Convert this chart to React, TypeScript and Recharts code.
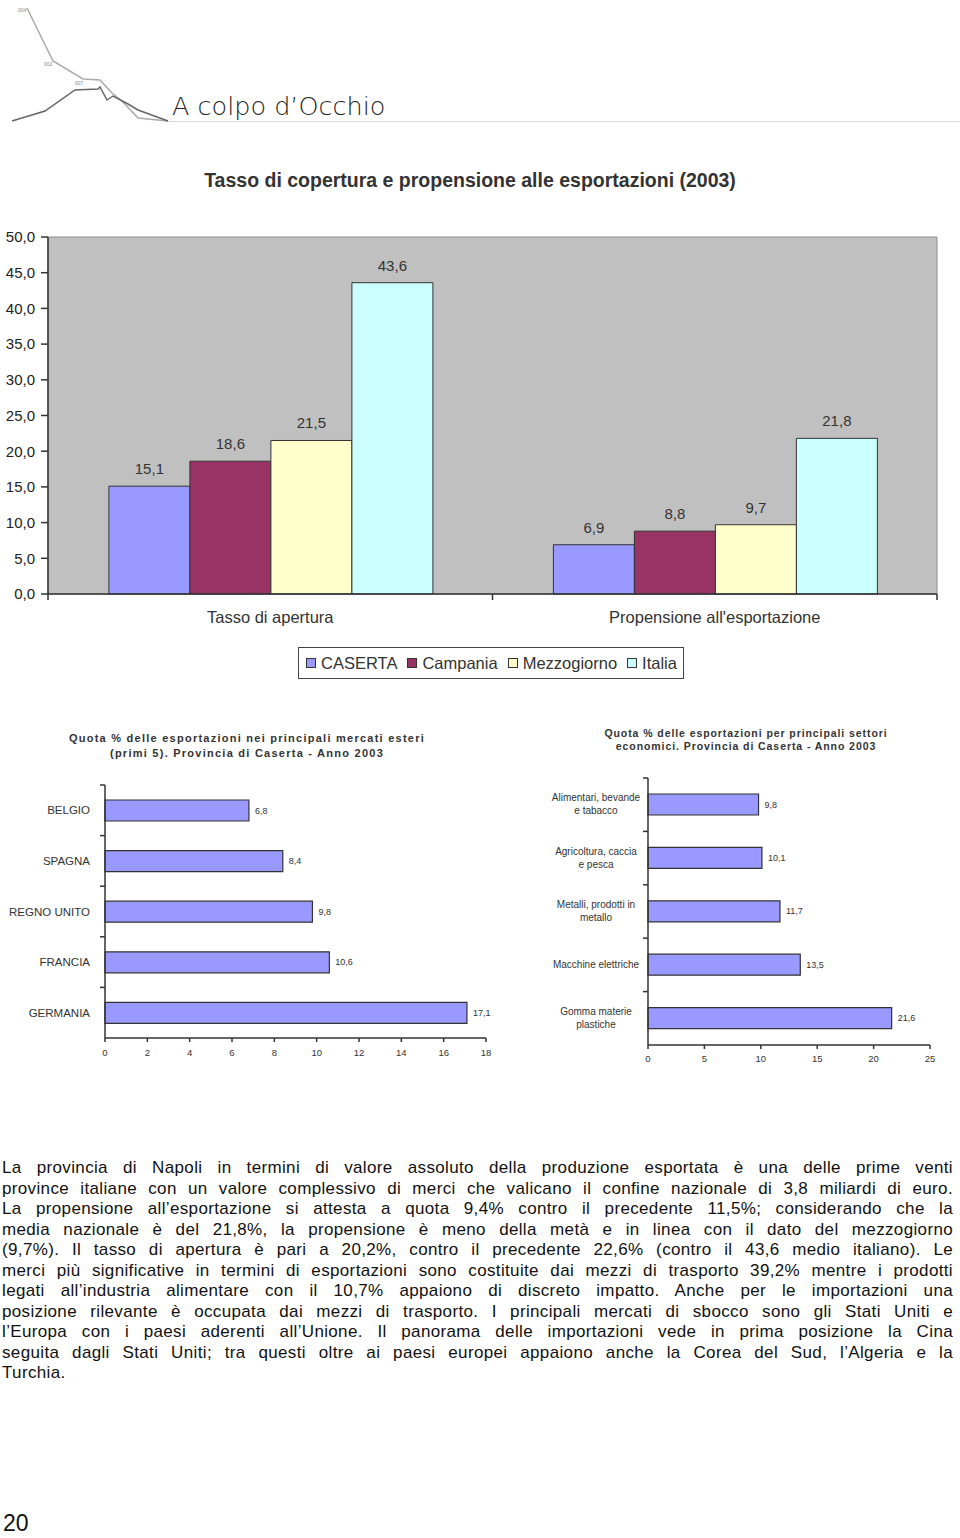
import React from 'react';
import { BarChart, Bar, XAxis, YAxis, CartesianGrid, LabelList, ReferenceArea } from 'recharts';

// Main chart: tasso di apertura / propensione all'esportazione
const groupNames = ['Tasso di apertura', "Propensione all'esportazione"];
const casertaValues = [15.1, 6.9];
const campaniaValues = [18.6, 8.8];
const mezzogiornoValues = [21.5, 9.7];
const italiaValues = [43.6, 21.8];
const seriesNames = ['CASERTA', 'Campania', 'Mezzogiorno', 'Italia'];
const seriesColors = ['#9999ff', '#993366', '#ffffcc', '#ccffff'];
const coverageTicks = [0, 5, 10, 15, 20, 25, 30, 35, 40, 45, 50];

// Left small chart: principali mercati esteri
const marketNames = ['BELGIO', 'SPAGNA', 'REGNO UNITO', 'FRANCIA', 'GERMANIA'];
const marketShares = [6.8, 8.4, 9.8, 10.6, 17.1];
const marketTicks = [0, 2, 4, 6, 8, 10, 12, 14, 16, 18];

// Right small chart: principali settori economici
const sectorNames = [
  'Alimentari, bevande\ne tabacco',
  'Agricoltura, caccia\ne pesca',
  'Metalli, prodotti in\nmetallo',
  'Macchine elettriche',
  'Gomma materie\nplastiche',
];
const sectorShares = [9.8, 10.1, 11.7, 13.5, 21.6];
const sectorTicks = [0, 5, 10, 15, 20, 25];

const paragraphLines = [
  'La provincia di Napoli in termini di valore assoluto della produzione esportata è una delle prime venti',
  'province italiane con un valore complessivo di merci che valicano il confine nazionale di 3,8 miliardi di euro.',
  'La propensione all’esportazione si attesta a quota 9,4% contro il precedente 11,5%; considerando che la',
  'media nazionale è del 21,8%, la propensione è meno della metà e in linea con il dato del mezzogiorno',
  '(9,7%). Il tasso di apertura è pari a 20,2%, contro il precedente 22,6% (contro il 43,6 medio italiano). Le',
  'merci più significative in termini di esportazioni sono costituite dai mezzi di trasporto 39,2% mentre i prodotti',
  'legati all’industria alimentare con il 10,7% appaiono di discreto impatto. Anche per le importazioni una',
  'posizione rilevante è occupata dai mezzi di trasporto. I principali mercati di sbocco sono gli Stati Uniti e',
  'l’Europa con i paesi aderenti all’Unione. Il panorama delle importazioni vede in prima posizione la Cina',
  'seguita dagli Stati Uniti; tra questi oltre ai paesi europei appaiono anche la Corea del Sud,  l’Algeria e la',
  'Turchia.',
];

const seriesValues = [casertaValues, campaniaValues, mezzogiornoValues, italiaValues];
const coverageData = groupNames.map((name, i) => {
  const row: Record<string, string | number> = { name };
  seriesNames.forEach((s, k) => {
    row[s] = seriesValues[k][i];
  });
  return row;
});
const marketData = marketNames.map((name, i) => ({ name, value: marketShares[i] }));
const sectorData = sectorNames.map((name, i) => ({ name, value: sectorShares[i] }));

const comma = (v: any) => Number(v).toFixed(1).replace('.', ',');

const FONT = '"Liberation Sans", Arial, sans-serif';
const AXIS = '#333';

// half of a category band, used to put tick marks between categories
const MAIN_HALF = (937 - 48) / groupNames.length / 2;
const MARKET_HALF = (1038 - 785) / marketNames.length / 2;
const SECTOR_HALF = (1045 - 778) / sectorNames.length / 2;

const GroupTick = (props: any) => {
  const { x, y, payload, index } = props;
  return (
    <g>
      {index === 0 && <line x1={x - MAIN_HALF} x2={x - MAIN_HALF} y1={y} y2={y + 6} stroke={AXIS} strokeWidth={1.5} />}
      <line x1={x + MAIN_HALF} x2={x + MAIN_HALF} y1={y} y2={y + 6} stroke={AXIS} strokeWidth={1.5} />
      <text x={x} y={y + 29} textAnchor="middle" fontSize={16.5} fill="#333" fontFamily={FONT}>
        {payload.value}
      </text>
    </g>
  );
};

const MarketTick = (props: any) => {
  const { x, y, payload } = props;
  return (
    <g>
      <line x1={x - 5} x2={x} y1={y - MARKET_HALF} y2={y - MARKET_HALF} stroke={AXIS} strokeWidth={1.5} />
      <text x={x - 15} y={y + 4} textAnchor="end" fontSize={11.5} fill="#333" fontFamily={FONT}>
        {payload.value}
      </text>
    </g>
  );
};

const SectorTick = (props: any) => {
  const { x, y, payload } = props;
  const lines = String(payload.value).split('\n');
  const top = y + 3 - ((lines.length - 1) * 13) / 2;
  return (
    <g>
      <line x1={x - 5} x2={x} y1={y - SECTOR_HALF} y2={y - SECTOR_HALF} stroke={AXIS} strokeWidth={1.5} />
      <text textAnchor="middle" fontSize={10} fill="#333" fontFamily={FONT}>
        {lines.map((l, i) => (
          <tspan key={i} x={x - 52} y={top + i * 13}>
            {l}
          </tspan>
        ))}
      </text>
    </g>
  );
};

const Logo = () => (
  <svg width={170} height={125} style={{ position: 'absolute', left: 0, top: 0 }}>
    <polyline points="27,8 53,61 83,79 100,80 112,93 122,101 138,118 168,121" fill="none" stroke="#aaa" strokeWidth={1.5} />
    <polyline points="12,121 45,111 75,90 98,89 100,87 107,100 113,96 128,104 138,110 168,121" fill="none" stroke="#666" strokeWidth={1.5} />
    <text x={18} y={12} fontSize={5} fill="#888" fontFamily={FONT}>004</text>
    <text x={44} y={66} fontSize={5} fill="#888" fontFamily={FONT}>002</text>
    <text x={75} y={85} fontSize={5} fill="#888" fontFamily={FONT}>007</text>
  </svg>
);

const abs = (left: number, top: number, extra: React.CSSProperties = {}): React.CSSProperties => ({
  position: 'absolute',
  left,
  top,
  ...extra,
});

export default function App() {
  return (
    <div
      style={{
        position: 'absolute',
        left: 0,
        top: 0,
        width: 960,
        height: 1538,
        background: '#fff',
        overflow: 'hidden',
        fontFamily: FONT,
      }}
    >
      <Logo />
      <div style={abs(168, 121, { width: 792, height: 1, background: '#d8d8d8' })} />
      <div
        style={abs(172, 92, {
          fontFamily: '"DejaVu Sans", sans-serif',
          fontWeight: 200,
          fontSize: 25.5,
          lineHeight: '28px',
          color: '#222',
          whiteSpace: 'nowrap',
        })}
      >
        A colpo d’Occhio
      </div>

      {/* main chart */}
      <div style={abs(0, 169, { width: 940, textAlign: 'center', fontWeight: 'bold', fontSize: 19.5, lineHeight: '22px', color: '#333' })}>
        Tasso di copertura e propensione alle esportazioni (2003)
      </div>
      <div style={abs(0, 200)}>
        <BarChart
          width={960}
          height={460}
          data={coverageData}
          margin={{ top: 37, right: 23, bottom: 26, left: 0 }}
          barCategoryGap="13.7%"
          barGap={0}
        >
          <CartesianGrid horizontal={false} vertical={false} fill="#c0c0c0" />
          <ReferenceArea y1={0} y2={50} fill="none" stroke="#8c8c8c" strokeWidth={1} />
          <XAxis
            dataKey="name"
            height={40}
            tickSize={0}
            tickMargin={0}
            tick={<GroupTick />}
            axisLine={{ stroke: AXIS, strokeWidth: 1.5 }}
          />
          <YAxis
            width={48}
            domain={[0, 50]}
            ticks={coverageTicks}
            interval={0}
            tickFormatter={comma}
            tickSize={7}
            tickMargin={6}
            tick={{ fontSize: 15, fill: '#222', fontFamily: FONT }}
            tickLine={{ stroke: AXIS, strokeWidth: 1.5 }}
            axisLine={{ stroke: AXIS, strokeWidth: 1.5 }}
          />
          {seriesNames.map((s, k) => (
            <Bar key={s} dataKey={s} fill={seriesColors[k]} stroke="#333" strokeWidth={1} isAnimationActive={false}>
              <LabelList dataKey={s} position="top" offset={12} formatter={comma} fontSize={15} fill="#333" fontFamily={FONT} />
            </Bar>
          ))}
        </BarChart>
      </div>
      <div
        style={abs(298, 647, {
          width: 386,
          height: 32,
          boxSizing: 'border-box',
          border: '1.5px solid #444',
          display: 'flex',
          alignItems: 'center',
          justifyContent: 'space-between',
          padding: '0 6px 0 7px',
          fontSize: 16.5,
          color: '#333',
        })}
      >
        {seriesNames.map((s, k) => (
          <div key={s} style={{ display: 'flex', alignItems: 'center' }}>
            <span
              style={{
                display: 'inline-block',
                width: 8,
                height: 8,
                background: seriesColors[k],
                border: '1px solid #333',
                marginRight: 5,
              }}
            />
            <span>{s}</span>
          </div>
        ))}
      </div>

      {/* left small chart */}
      <div style={abs(0, 731, { width: 494, textAlign: 'center', fontWeight: 'bold', fontSize: 11, lineHeight: '15px', letterSpacing: 1.25, color: '#333', whiteSpace: 'nowrap' })}>
        Quota % delle esportazioni nei principali mercati esteri
        <br />
        (primi 5). Provincia di Caserta - Anno 2003
      </div>
      <div style={abs(0, 770)}>
        <BarChart
          width={500}
          height={300}
          layout="vertical"
          data={marketData}
          margin={{ top: 15, right: 14, bottom: 12, left: 0 }}
        >
          <XAxis
            type="number"
            domain={[0, 18]}
            ticks={marketTicks}
            interval={0}
            height={20}
            tickSize={4}
            tickMargin={7}
            tick={{ fontSize: 9.5, fill: '#333', fontFamily: FONT }}
            tickLine={{ stroke: AXIS, strokeWidth: 1.5 }}
            axisLine={{ stroke: AXIS, strokeWidth: 1.5 }}
          />
          <YAxis
            type="category"
            dataKey="name"
            width={105}
            tickSize={0}
            tickMargin={0}
            tick={<MarketTick />}
            axisLine={{ stroke: AXIS, strokeWidth: 1.5 }}
          />
          <Bar dataKey="value" barSize={21} fill="#9999ff" stroke="#333" strokeWidth={1.2} isAnimationActive={false}>
            <LabelList dataKey="value" position="right" offset={6} formatter={comma} fontSize={9} fill="#333" fontFamily={FONT} />
          </Bar>
        </BarChart>
      </div>

      {/* right small chart */}
      <div style={abs(530, 727, { width: 432, textAlign: 'center', fontWeight: 'bold', fontSize: 10.5, lineHeight: '13px', letterSpacing: 0.92, color: '#333', whiteSpace: 'nowrap' })}>
        Quota % delle esportazioni per principali settori
        <br />
        economici. Provincia di Caserta - Anno 2003
      </div>
      <div style={abs(530, 765)}>
        <BarChart
          width={430}
          height={310}
          layout="vertical"
          data={sectorData}
          margin={{ top: 13, right: 30, bottom: 10, left: 0 }}
        >
          <XAxis
            type="number"
            domain={[0, 25]}
            ticks={sectorTicks}
            interval={0}
            height={20}
            tickSize={4}
            tickMargin={6}
            tick={{ fontSize: 9.5, fill: '#333', fontFamily: FONT }}
            tickLine={{ stroke: AXIS, strokeWidth: 1.5 }}
            axisLine={{ stroke: AXIS, strokeWidth: 1.5 }}
          />
          <YAxis
            type="category"
            dataKey="name"
            width={118}
            tickSize={0}
            tickMargin={0}
            tick={<SectorTick />}
            axisLine={{ stroke: AXIS, strokeWidth: 1.5 }}
          />
          <Bar dataKey="value" barSize={21} fill="#9999ff" stroke="#333" strokeWidth={1.2} isAnimationActive={false}>
            <LabelList dataKey="value" position="right" offset={6} formatter={comma} fontSize={9} fill="#333" fontFamily={FONT} />
          </Bar>
        </BarChart>
      </div>

      {/* text */}
      <div style={abs(2, 1158, { width: 951, fontSize: 17, lineHeight: '20.5px', letterSpacing: 0.35, color: '#111' })}>
        {paragraphLines.map((line, i) => (
          <div
            key={i}
            style={{
              whiteSpace: 'nowrap',
              textAlign: 'justify',
              textAlignLast: i === paragraphLines.length - 1 ? 'left' : 'justify',
            }}
          >
            {line}
          </div>
        ))}
      </div>

      <div style={abs(3, 1510, { fontSize: 23, lineHeight: '26px', color: '#111' })}>20</div>
    </div>
  );
}
